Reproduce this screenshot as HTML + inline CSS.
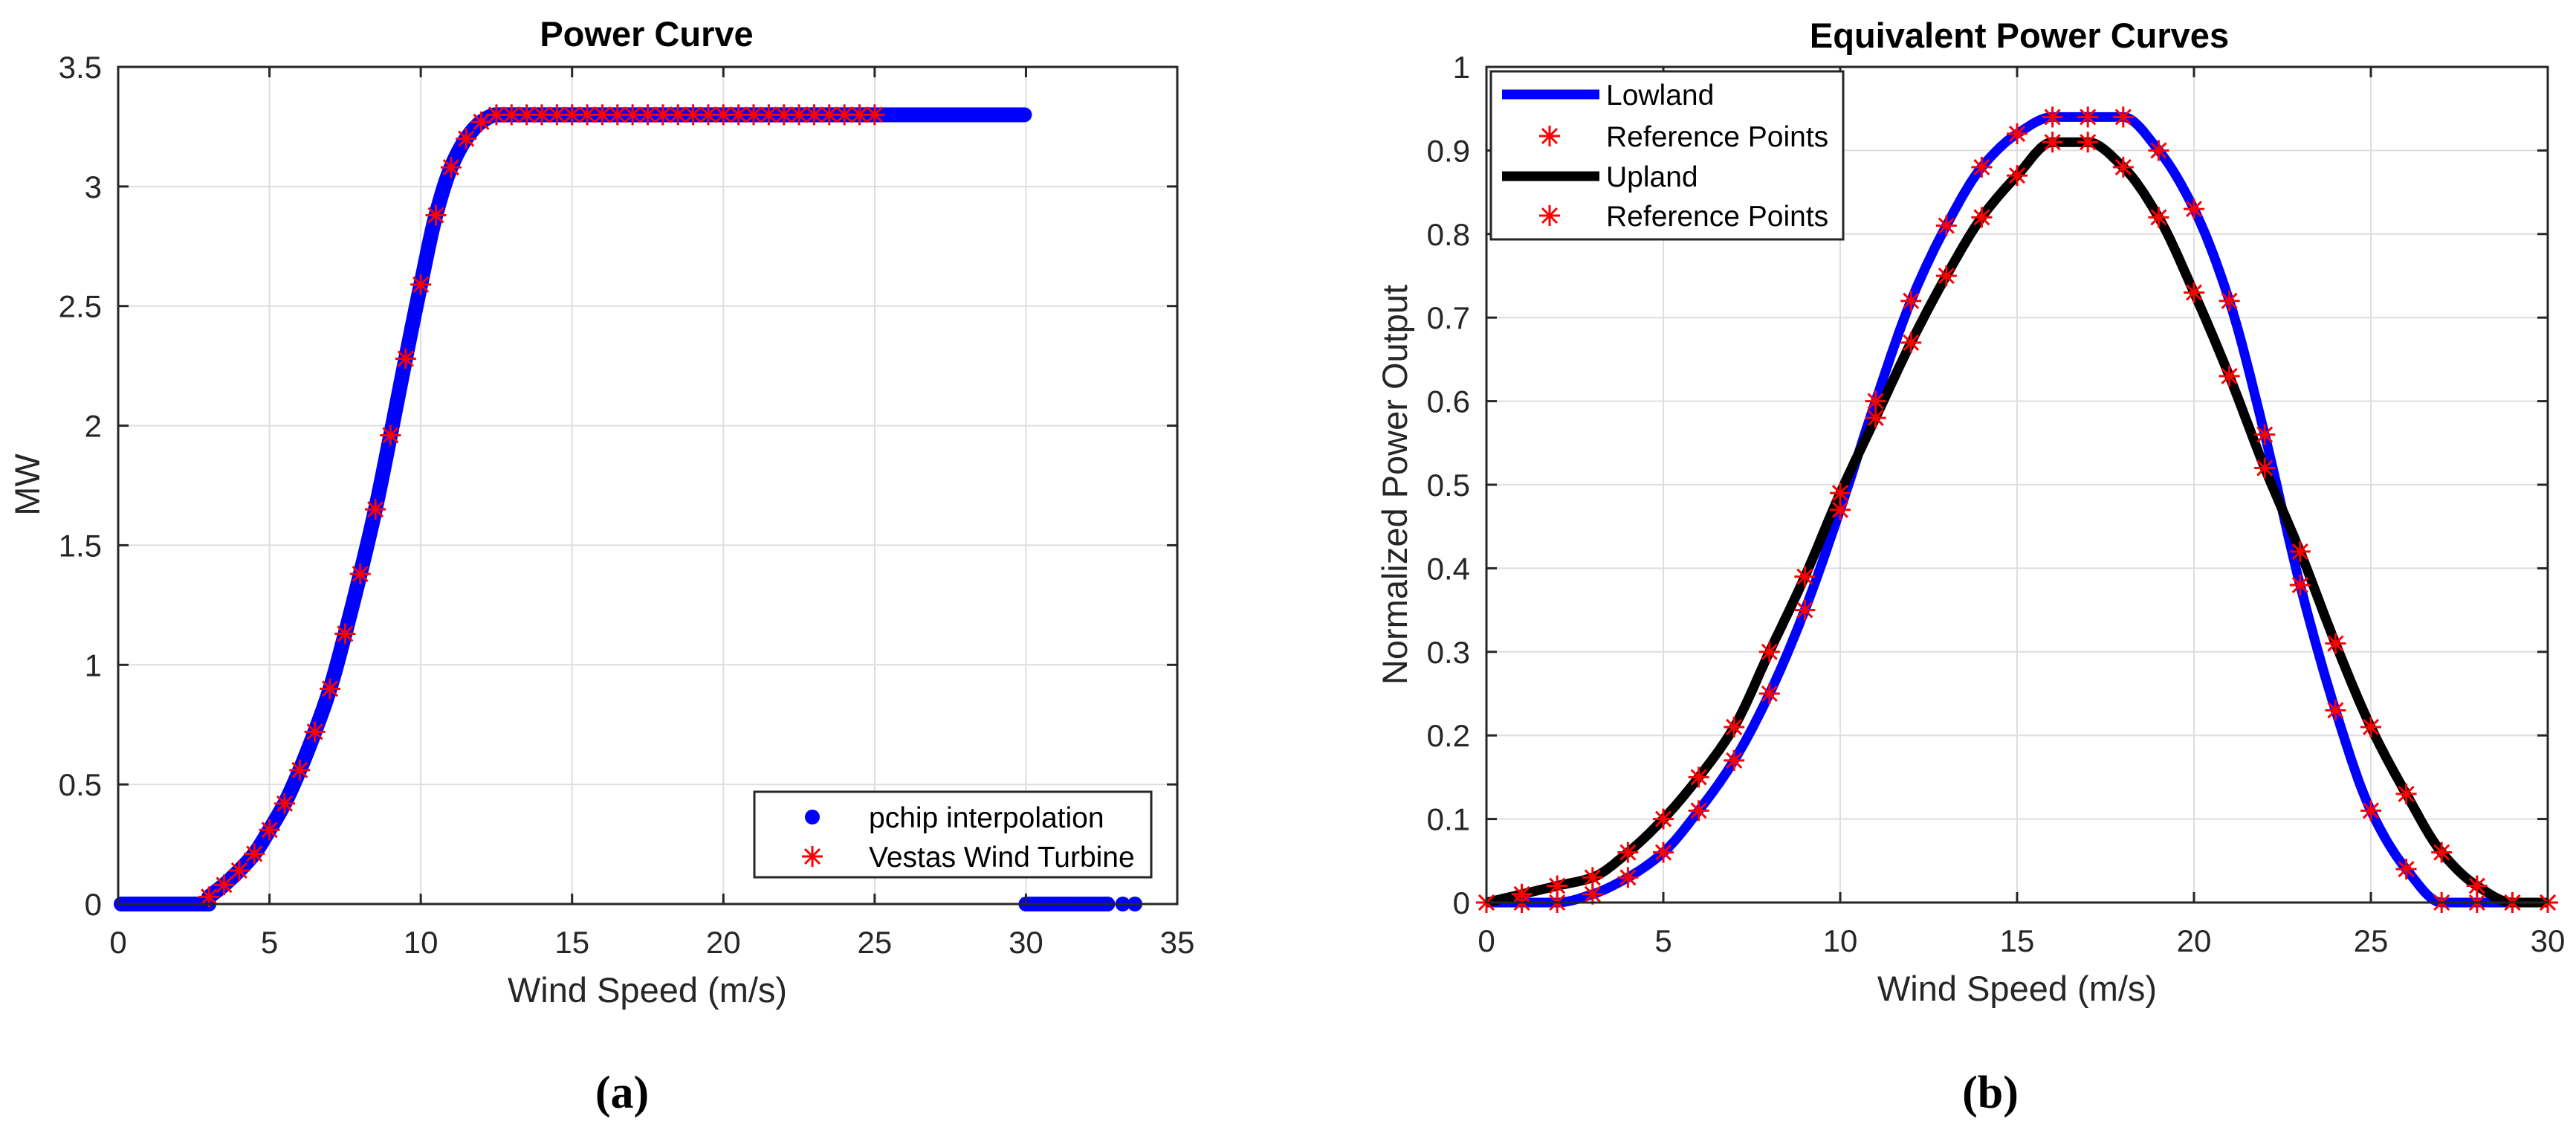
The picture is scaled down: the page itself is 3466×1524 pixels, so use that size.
<!DOCTYPE html>
<html><head><meta charset="utf-8"><style>
html,body{margin:0;padding:0;background:#fff}
svg{display:block}
text{font-family:"Liberation Sans",sans-serif;fill:#262626}
</style></head><body>
<svg id="fig" width="3466" height="1524" viewBox="0 0 3466 1524" xmlns="http://www.w3.org/2000/svg">
<g id="left"></g>
<g id="right"></g>
<text x="837" y="1490" font-weight="bold" font-size="62" text-anchor="middle" style="font-family:'Liberation Serif',serif;fill:#000">(a)</text>
<text x="2678" y="1490" font-weight="bold" font-size="62" text-anchor="middle" style="font-family:'Liberation Serif',serif;fill:#000">(b)</text>
</svg>
<script>
// ---- data: left chart ----
const vestasX = [3,3.5,4,4.5,5,5.5,6,6.5,7,7.5,8,8.5,9,9.5,10,10.5,11,11.5,12,12.5,13,13.5,14,14.5,15,15.5,16,16.5,17,17.5,18,18.5,19,19.5,20,20.5,21,21.5,22,22.5,23,23.5,24,24.5,25];
const vestasY = [0.03,0.08,0.14,0.21,0.31,0.42,0.56,0.72,0.90,1.13,1.38,1.65,1.96,2.28,2.59,2.88,3.08,3.20,3.27,3.30,3.30,3.30,3.30,3.30,3.30,3.30,3.30,3.30,3.30,3.30,3.30,3.30,3.30,3.30,3.30,3.30,3.30,3.30,3.30,3.30,3.30,3.30,3.30,3.30,3.30];
const cutoutX = [30.0,30.1,30.2,30.3,30.4,30.5,30.6,30.7,30.8,30.9,31.0,31.1,31.2,31.3,31.4,31.5,31.6,31.7,31.8,31.9,32.0,32.1,32.2,32.3,32.4,32.5,32.6,32.7,33.2,33.6];
const leftXTicks = [0,5,10,15,20,25,30,35];
const leftYTicks = [0,0.5,1,1.5,2,2.5,3,3.5];
// ---- data: right chart ----
const windX = [0,1,2,3,4,5,6,7,8,9,10,11,12,13,14,15,16,17,18,19,20,21,22,23,24,25,26,27,28,29,30];
const lowlandY = [0,0,0,0.01,0.03,0.06,0.11,0.17,0.25,0.35,0.47,0.60,0.72,0.81,0.88,0.92,0.94,0.94,0.94,0.90,0.83,0.72,0.56,0.38,0.23,0.11,0.04,0,0,0,0];
const uplandY = [0,0.01,0.02,0.03,0.06,0.10,0.15,0.21,0.30,0.39,0.49,0.58,0.67,0.75,0.82,0.87,0.91,0.91,0.88,0.82,0.73,0.63,0.52,0.42,0.31,0.21,0.13,0.06,0.02,0,0];
const rightXTicks = [0,5,10,15,20,25,30];
const rightYTicks = [0,0.1,0.2,0.3,0.4,0.5,0.6,0.7,0.8,0.9,1];

const NS="http://www.w3.org/2000/svg";
function mk(parent,tag,attrs){const e=document.createElementNS(NS,tag);for(const k in attrs)e.setAttribute(k,attrs[k]);parent.appendChild(e);return e;}
function pchip(xs,ys){
  const n=xs.length,h=[],d=[],m=new Array(n);
  for(let i=0;i<n-1;i++){h.push(xs[i+1]-xs[i]);d.push((ys[i+1]-ys[i])/h[i]);}
  for(let i=1;i<n-1;i++){
    if(d[i-1]*d[i]<=0)m[i]=0;else{const w1=2*h[i]+h[i-1],w2=h[i]+2*h[i-1];m[i]=(w1+w2)/(w1/d[i-1]+w2/d[i]);}
  }
  m[0]=d[0];m[n-1]=d[n-2];
  if(d[0]===0)m[0]=0; if(d[n-2]===0)m[n-1]=0;
  return function(x){
    let i=0;while(i<n-2&&x>xs[i+1])i++;
    const t=(x-xs[i])/h[i],t2=t*t,t3=t2*t;
    return (2*t3-3*t2+1)*ys[i]+(t3-2*t2+t)*h[i]*m[i]+(-2*t3+3*t2)*ys[i+1]+(t3-t2)*h[i]*m[i+1];
  };
}
function star(g,x,y,name){
  const s=mk(g,'g',{stroke:'#ff0000','stroke-width':3});
  
  
  const r=14,q=10;
  mk(s,'line',{x1:x-r,y1:y,x2:x+r,y2:y});
  mk(s,'line',{x1:x,y1:y-r,x2:x,y2:y+r});
  mk(s,'line',{x1:x-q,y1:y-q,x2:x+q,y2:y+q});
  mk(s,'line',{x1:x-q,y1:y+q,x2:x+q,y2:y-q});
}
function axes(g,L,T,R,B,sx,sy,xt,yt){
  for(const v of xt){const x=sx(v);
    if(x>L+1&&x<R-1){const gl=mk(g,'line',{x1:x,y1:T,x2:x,y2:B,stroke:'#dedede','stroke-width':2});
    }}
  for(const v of yt){const y=sy(v);
    if(y>T+1&&y<B-1){const gl=mk(g,'line',{x1:L,y1:y,x2:R,y2:y,stroke:'#dedede','stroke-width':2});
    }}
}
function frame(g,L,T,R,B,sx,sy,xt,yt){
  const tk=mk(g,'g',{stroke:'#262626','stroke-width':3});
  
  for(const v of xt){const x=sx(v);mk(tk,'line',{x1:x,y1:B,x2:x,y2:B-14});mk(tk,'line',{x1:x,y1:T,x2:x,y2:T+14});
    const t=mk(g,'text',{x:x,y:B+66,'font-size':42,'text-anchor':'middle'});t.textContent=String(v);
    }
  for(const v of yt){const y=sy(v);mk(tk,'line',{x1:L,y1:y,x2:L+14,y2:y});mk(tk,'line',{x1:R,y1:y,x2:R-14,y2:y});
    const t=mk(g,'text',{x:L-22,y:y+15,'font-size':42,'text-anchor':'end'});t.textContent=String(v);
    }
  const b=mk(g,'rect',{x:L,y:T,width:R-L,height:B-T,fill:'none',stroke:'#262626','stroke-width':3});
  
}

// ---------- LEFT ----------
(function(){
  const g=document.getElementById('left');
  const L=159,T=90,R=1584,B=1216;
  const sx=v=>L+(v/35)*(R-L), sy=v=>B-(v/3.5)*(B-T);
  axes(g,L,T,R,B,sx,sy,leftXTicks,leftYTicks);
  const f=pchip(vestasX,vestasY);
  const dots=mk(g,'g',{fill:'#0000ff'});
  
  const pts=[];
  for(let x=0.1;x<3;x+=0.05)pts.push([x,0]);
  for(let x=vestasX[0];x<=vestasX[vestasX.length-1];x+=0.02)pts.push([x,f(x)]);
  for(let x=vestasX[vestasX.length-1];x<=30;x+=0.05)pts.push([x,vestasY[vestasY.length-1]]);
  for(const x of cutoutX)pts.push([x,0]);
  for(const p of pts)mk(dots,'circle',{cx:sx(p[0]),cy:sy(p[1]),r:10});
  const sg=mk(g,'g',{});
  
  vestasX.forEach((x,i)=>star(sg,sx(x),sy(vestasY[i]),'vestas-point'));
  frame(g,L,T,R,B,sx,sy,leftXTicks,leftYTicks);
  let t=mk(g,'text',{x:870,y:62,'font-size':47,'font-weight':'bold','text-anchor':'middle',style:'fill:#000'});t.textContent='Power Curve';
  
  t=mk(g,'text',{x:871,y:1348,'font-size':47,'text-anchor':'middle'});t.textContent='Wind Speed (m/s)';
  
  t=mk(g,'text',{x:0,y:0,'font-size':47,'text-anchor':'middle',transform:'translate(53,652) rotate(-90)'});t.textContent='MW';
  
  const lg=mk(g,'g',{});
  mk(lg,'rect',{x:1015,y:1065,width:534,height:115,fill:'#fff',stroke:'#262626','stroke-width':3});
  mk(lg,'circle',{cx:1093,cy:1099,r:10,fill:'#0000ff'});
  star(lg,1093,1152,'legend-star-marker');
  t=mk(lg,'text',{x:1169,y:1113,'font-size':39,style:'fill:#000'});t.textContent='pchip interpolation';
  
  t=mk(lg,'text',{x:1169,y:1166,'font-size':39,style:'fill:#000'});t.textContent='Vestas Wind Turbine';
  
})();

// ---------- RIGHT ----------
(function(){
  const g=document.getElementById('right');
  const L=2000,T=90,R=3428,B=1214;
  const sx=v=>L+(v/30)*(R-L), sy=v=>B-v*(B-T);
  axes(g,L,T,R,B,sx,sy,rightXTicks,rightYTicks);
  function curve(ys,color,name){
    const f=pchip(windX,ys);let d='';
    for(let x=0;x<=30.0001;x+=0.05)d+=(d?'L':'M')+sx(x).toFixed(1)+','+sy(Math.max(0,f(x))).toFixed(1);
    const p=mk(g,'path',{d:d,fill:'none',stroke:color,'stroke-width':13,'stroke-linejoin':'round'});
    
  }
  curve(lowlandY,'#0000ff','lowland-line');
  curve(uplandY,'#000000','upland-line');
  const s1=mk(g,'g',{});
  windX.forEach((x,i)=>star(s1,sx(x),sy(lowlandY[i]),'lowland-point'));
  const s2=mk(g,'g',{});
  windX.forEach((x,i)=>star(s2,sx(x),sy(uplandY[i]),'upland-point'));
  frame(g,L,T,R,B,sx,sy,rightXTicks,rightYTicks);
  let t=mk(g,'text',{x:2717,y:64,'font-size':47,'font-weight':'bold','text-anchor':'middle',style:'fill:#000'});t.textContent='Equivalent Power Curves';
  
  t=mk(g,'text',{x:2714,y:1346,'font-size':47,'text-anchor':'middle'});t.textContent='Wind Speed (m/s)';
  
  t=mk(g,'text',{x:0,y:0,'font-size':47,'text-anchor':'middle',transform:'translate(1893,652) rotate(-90)'});t.textContent='Normalized Power Output';
  
  const lg=mk(g,'g',{});
  mk(lg,'rect',{x:2006,y:96,width:474,height:226,fill:'#fff',stroke:'#262626','stroke-width':3});
  mk(lg,'line',{x1:2021,y1:127,x2:2152,y2:127,stroke:'#0000ff','stroke-width':13});
  star(lg,2085,183,'legend-star-marker');
  mk(lg,'line',{x1:2021,y1:237,x2:2152,y2:237,stroke:'#000','stroke-width':13});
  star(lg,2085,290,'legend-star-marker');
  const labels=['Lowland','Reference Points','Upland','Reference Points'],ys=[127,183,237,290];
  labels.forEach((s,i)=>{const tt=mk(lg,'text',{x:2161,y:ys[i]+14,'font-size':39,style:'fill:#000'});tt.textContent=s;
    });
})();
</script>
</body></html>
